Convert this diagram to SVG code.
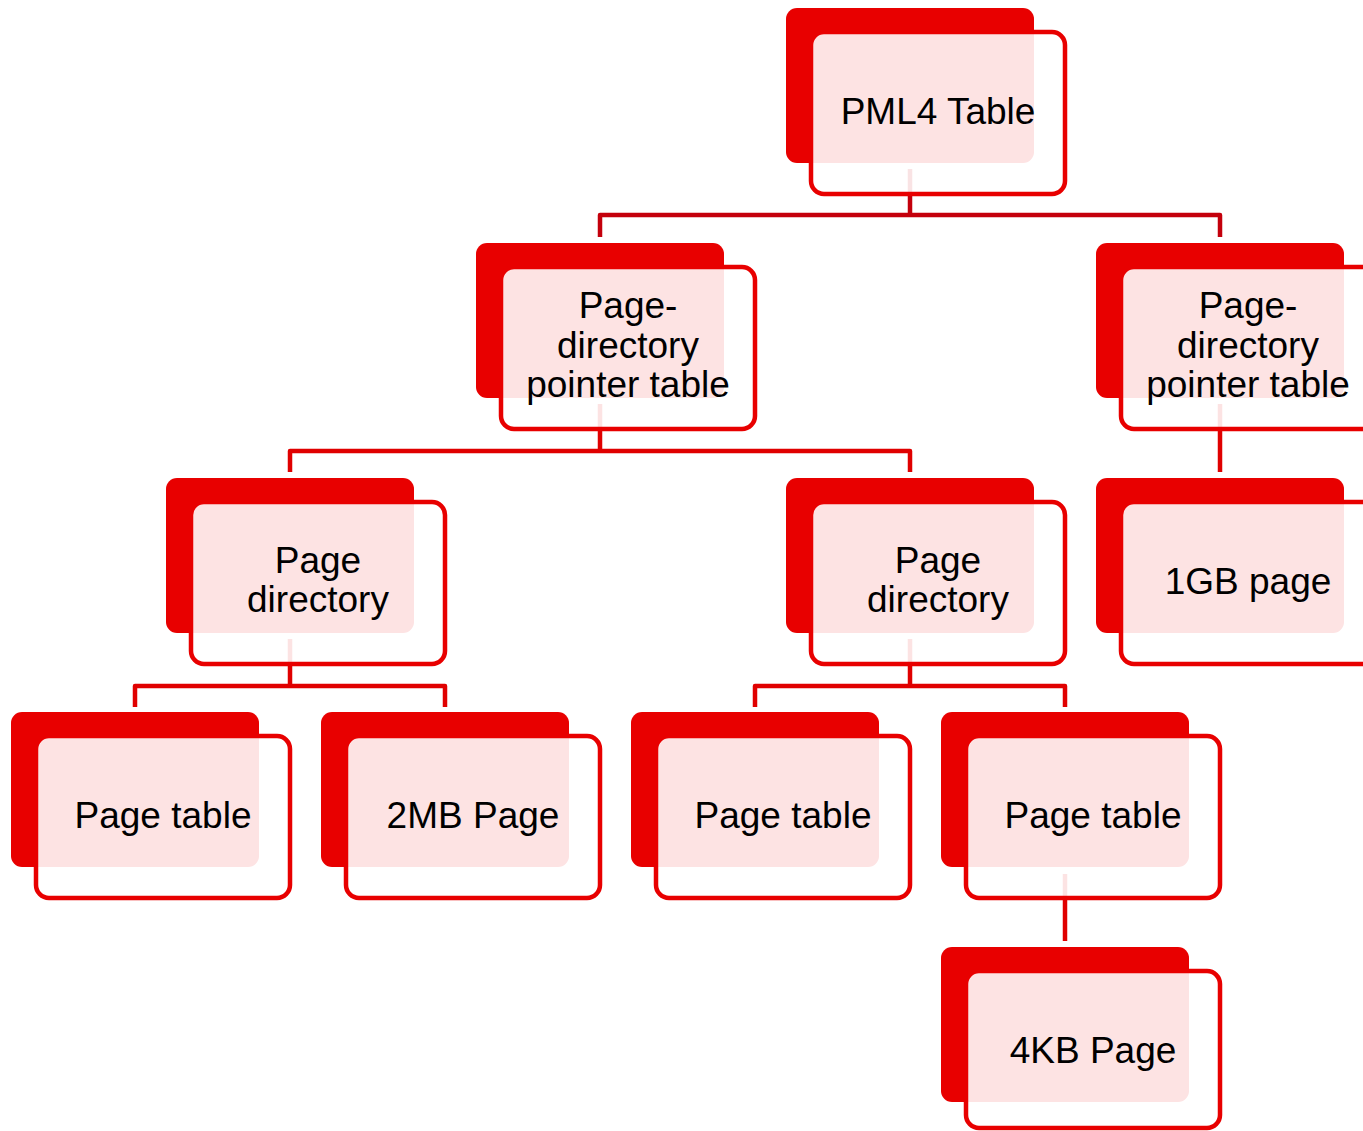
<svg xmlns="http://www.w3.org/2000/svg" width="1363" height="1131" viewBox="0 0 1363 1131">
  <style>
    .back { fill: #e80000; }
    .front { fill: #ffffff; fill-opacity: 0.89; stroke: #e80000; stroke-width: 4.5; }
    .lbl { font-family: "Liberation Sans", Arial, sans-serif; font-size: 37px; fill: #000000; text-anchor: middle; }
    .link { fill: none; stroke: #e00000; stroke-width: 4.5; stroke-linejoin: round; }
    .link.top { stroke: #c4000c; }
  </style>
  <defs>
    <!-- shared card shapes: red backing tab and outlined translucent front -->
    <rect id="back" class="back" x="0" y="0" width="248" height="155" rx="11"/>
    <rect id="front" class="front" x="25" y="24" width="254" height="162" rx="13"/>
  </defs>

  <rect width="1363" height="1131" fill="#ffffff"/>

  <!-- connectors (drawn first so the front cards tint them) -->
  <g id="connectors">
    <path class="link top" d="M910 169 V215 M600 237 V215 H1220 V237"/>
    <path class="link" d="M600 404 V451 M290 472 V451 H910 V472"/>
    <path class="link" d="M1220 404 V472"/>
    <path class="link" d="M290 639 V686 M135 707 V686 H445 V707"/>
    <path class="link" d="M910 639 V686 M755 707 V686 H1065 V707"/>
    <path class="link" d="M1065 874 V941"/>
  </g>

  <g id="pml4" transform="translate(786 8)">
    <use href="#back"/><use href="#front"/>
    <text class="lbl" x="152" y="116">PML4 Table</text>
  </g>

  <g id="pdpt-left" transform="translate(476 243)">
    <use href="#back"/><use href="#front"/>
    <text class="lbl" x="152" y="75">Page-</text>
    <text class="lbl" x="152" y="115">directory</text>
    <text class="lbl" x="152" y="154">pointer table</text>
  </g>

  <g id="pdpt-right" transform="translate(1096 243)">
    <use href="#back"/><use href="#front"/>
    <text class="lbl" x="152" y="75">Page-</text>
    <text class="lbl" x="152" y="115">directory</text>
    <text class="lbl" x="152" y="154">pointer table</text>
  </g>

  <g id="pd-left" transform="translate(166 478)">
    <use href="#back"/><use href="#front"/>
    <text class="lbl" x="152" y="95">Page</text>
    <text class="lbl" x="152" y="134">directory</text>
  </g>

  <g id="pd-right" transform="translate(786 478)">
    <use href="#back"/><use href="#front"/>
    <text class="lbl" x="152" y="95">Page</text>
    <text class="lbl" x="152" y="134">directory</text>
  </g>

  <g id="page-1gb" transform="translate(1096 478)">
    <use href="#back"/><use href="#front"/>
    <text class="lbl" x="152" y="116">1GB page</text>
  </g>

  <g id="pt-1" transform="translate(11 712)">
    <use href="#back"/><use href="#front"/>
    <text class="lbl" x="152" y="116">Page table</text>
  </g>

  <g id="page-2mb" transform="translate(321 712)">
    <use href="#back"/><use href="#front"/>
    <text class="lbl" x="152" y="116">2MB Page</text>
  </g>

  <g id="pt-2" transform="translate(631 712)">
    <use href="#back"/><use href="#front"/>
    <text class="lbl" x="152" y="116">Page table</text>
  </g>

  <g id="pt-3" transform="translate(941 712)">
    <use href="#back"/><use href="#front"/>
    <text class="lbl" x="152" y="116">Page table</text>
  </g>

  <g id="page-4kb" transform="translate(941 947)">
    <use href="#back"/>
    <rect class="front" x="25" y="24" width="254" height="157" rx="13"/>
    <text class="lbl" x="152" y="116">4KB Page</text>
  </g>
</svg>
